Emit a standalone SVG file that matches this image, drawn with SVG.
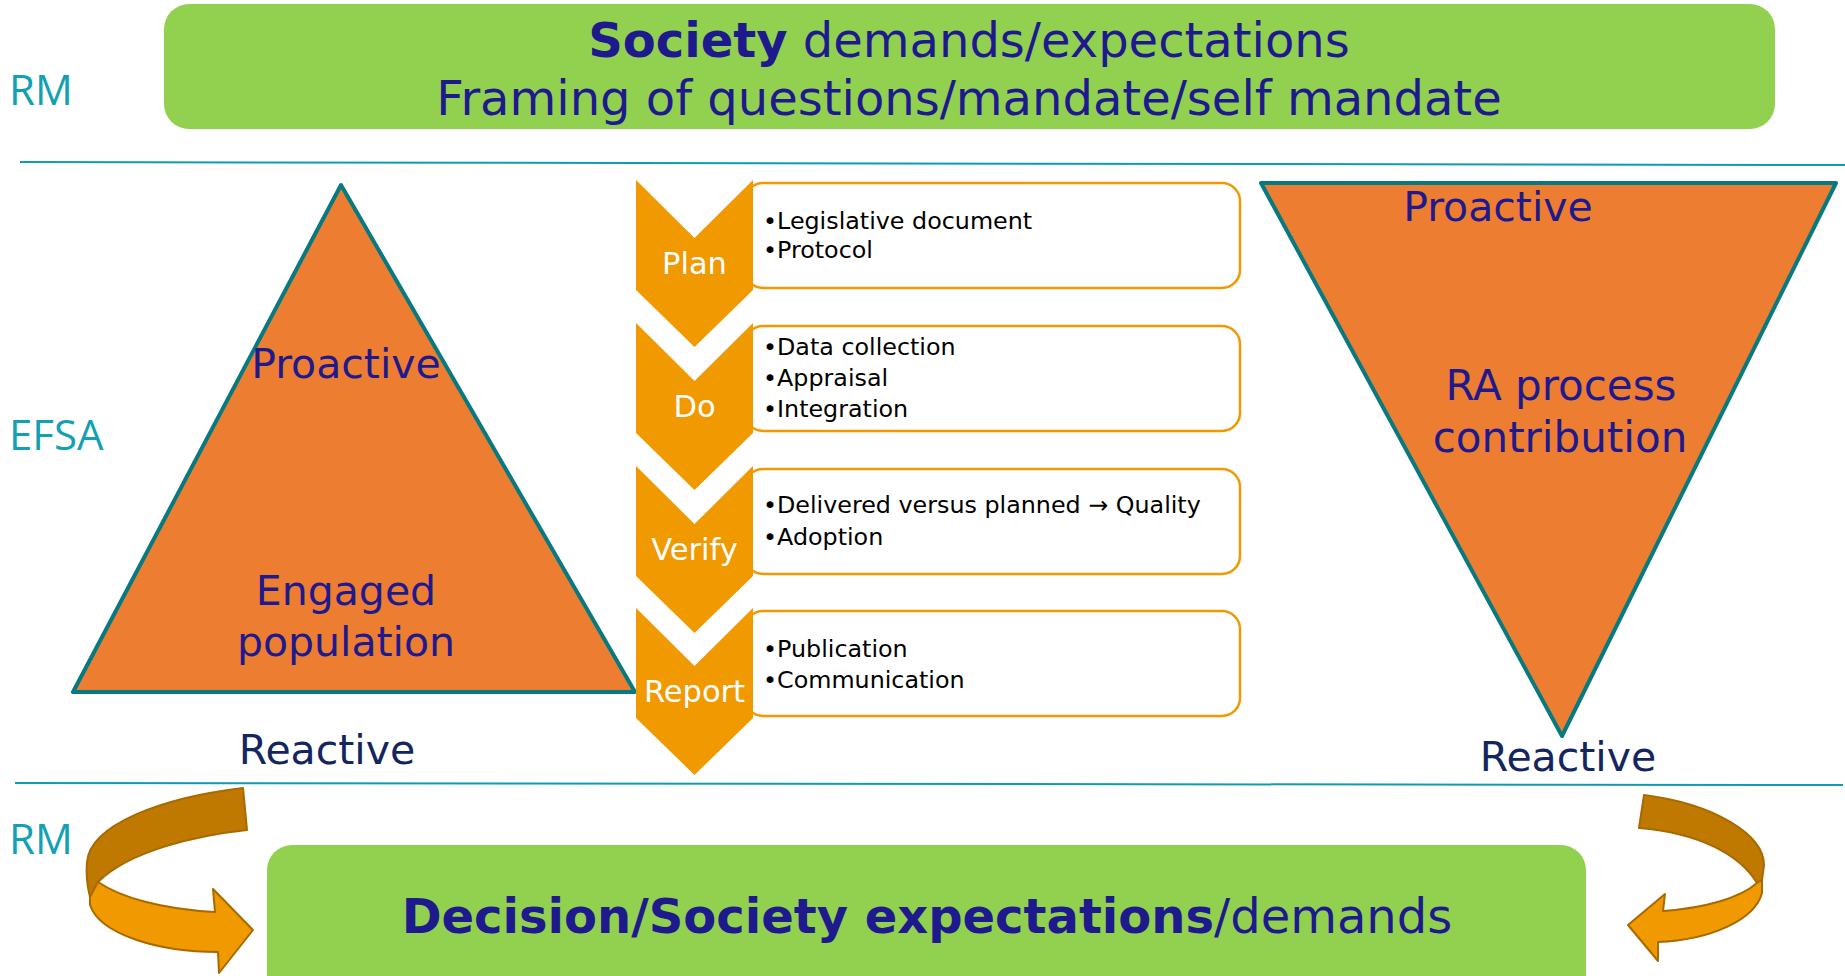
<svg xmlns="http://www.w3.org/2000/svg" width="1845" height="976" viewBox="0 0 1845 976">
<defs>
<style>
.bg{fill:#FFFFFF}
.green{fill:#92D050}
.title{font-family:"DejaVu Sans",Verdana,sans-serif;font-size:48px;fill:#1E1A8E}
.b{font-weight:bold}
.side{font-family:"Open Sans","Liberation Sans",sans-serif;font-size:42px;fill:#12A0B4}
.sep{stroke:#0E9CB0;stroke-width:2;fill:none}
.tri{fill:#ED7D31;stroke:#067A80;stroke-width:4;stroke-linejoin:round}
.tt{font-family:"DejaVu Sans",Verdana,sans-serif;font-size:41px;fill:#1E1A8E;text-anchor:middle}
.tt2{font-family:"DejaVu Sans",Verdana,sans-serif;font-size:42px;fill:#1E1A8E;text-anchor:middle}
.re{font-family:"DejaVu Sans",Verdana,sans-serif;font-size:41px;fill:#142660;text-anchor:middle}
.chev{fill:#F09900}
.cl{font-family:"DejaVu Sans",Verdana,sans-serif;font-size:30.5px;fill:#FFFFFF;text-anchor:middle}
.box{fill:#FFFFFF;stroke:#F09900;stroke-width:2.5}
.bt{font-family:"DejaVu Sans",Verdana,sans-serif;font-size:23.8px;fill:#000000}
.dark{fill:#BF7800;stroke:#A86A00;stroke-width:2;stroke-linejoin:round}
.light{fill:#F09900;stroke:#A86A00;stroke-width:2;stroke-linejoin:round}
</style>
</defs>
<rect class="bg" x="0" y="0" width="1845" height="976"/>

<g id="top-box">
<rect class="green" x="164" y="4" width="1611" height="125" rx="25" ry="25"/>
<text class="title" x="969" y="57" text-anchor="middle"><tspan class="b">Society</tspan> demands/expectations</text>
<text class="title" x="969" y="115" text-anchor="middle">Framing of questions/mandate/self mandate</text>
</g>

<g id="labels">
<text class="side" x="9" y="105">RM</text>
<text class="side" x="9" y="450">EFSA</text>
<text class="side" x="9" y="854">RM</text>
</g>

<g id="separators">
<line class="sep" x1="20" y1="162" x2="1845" y2="165"/>
<line class="sep" x1="15" y1="783" x2="1843" y2="785"/>
</g>

<g id="left-triangle">
<polygon class="tri" points="341,185 73,692 635,692"/>
<text class="tt" x="346" y="378">Proactive</text>
<text class="tt" x="346" y="605">Engaged</text>
<text class="tt" x="346" y="656">population</text>
<text class="re" x="327" y="764">Reactive</text>
</g>

<g id="right-triangle">
<polygon class="tri" points="1261,183 1836,183 1562,736"/>
<text class="tt" x="1498" y="221">Proactive</text>
<text class="tt2" x="1561" y="400">RA process</text>
<text class="tt2" x="1560" y="452">contribution</text>
<text class="re" x="1568" y="771">Reactive</text>
</g>

<g id="step-plan">
<rect class="box" x="745" y="183" width="495" height="105" rx="18" ry="18"/>
<polygon class="chev" points="636,180 694.5,238 753,180 753,290 694.5,347 636,290"/>
<text class="cl" x="694.5" y="274">Plan</text>
<text class="bt" x="763" y="229">•Legislative document</text>
<text class="bt" x="763" y="258">•Protocol</text>
</g>

<g id="step-do">
<rect class="box" x="745" y="326" width="495" height="105" rx="18" ry="18"/>
<polygon class="chev" points="636,323 694.5,381 753,323 753,433 694.5,490 636,433"/>
<text class="cl" x="694.5" y="417">Do</text>
<text class="bt" x="763" y="355">•Data collection</text>
<text class="bt" x="763" y="386">•Appraisal</text>
<text class="bt" x="763" y="417">•Integration</text>
</g>

<g id="step-verify">
<rect class="box" x="745" y="469" width="495" height="105" rx="18" ry="18"/>
<polygon class="chev" points="636,466 694.5,524 753,466 753,576 694.5,633 636,576"/>
<text class="cl" x="694.5" y="560">Verify</text>
<text class="bt" x="763" y="513">•Delivered versus planned → Quality</text>
<text class="bt" x="763" y="545">•Adoption</text>
</g>

<g id="step-report">
<rect class="box" x="745" y="611" width="495" height="105" rx="18" ry="18"/>
<polygon class="chev" points="636,608 694.5,666 753,608 753,718 694.5,775 636,718"/>
<text class="cl" x="694.5" y="702">Report</text>
<text class="bt" x="763" y="657">•Publication</text>
<text class="bt" x="763" y="688">•Communication</text>
</g>

<g id="bottom-box">
<rect class="green" x="267" y="845" width="1319" height="160" rx="25" ry="25"/>
<text class="title" x="927" y="933" text-anchor="middle"><tspan class="b">Decision/Society expectations</tspan>/demands</text>
</g>

<g id="connectors">
<g id="arrow-left">
<path class="dark" d="M243,788 L247,830 C200,835 130,850 98,882 L90,897 C87,885 86,872 87,862 C90,825 160,798 243,788 Z"/>
<path class="light" d="M98,882 C120,897 160,909 215,912 L213,889 L253,930 L219,973 L218,952 C160,952 100,935 90,905 L90,897 Z"/>
</g>
<g id="arrow-right">
<path class="dark" d="M1644,795 C1715,804 1764,835 1764,865 L1762,880 L1757,883 C1740,855 1700,833 1639,828 Z"/>
<path class="light" d="M1757,883 C1740,898 1705,908 1663,911 L1665,894 L1628,925 L1658,961 L1658,942 C1710,940 1755,920 1762,893 L1762,880 Z"/>
</g>
</g>
</svg>
